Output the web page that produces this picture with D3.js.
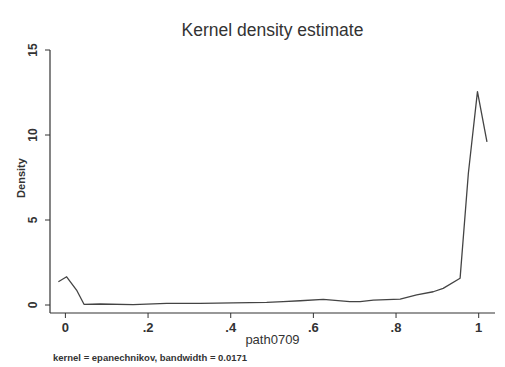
<!DOCTYPE html>
<html>
<head>
<meta charset="utf-8">
<script src="https://cdn.jsdelivr.net/npm/d3@7"></script>
<style>
  body { margin: 0; background: #fff; }
  svg { display: block; font-family: "Liberation Sans", Arial, sans-serif; }
</style>
</head>
<body>
<div id="chart"></div>
<script>
// evaluation points of the density (path0709) and estimated density
const xValues = [-0.017, 0.003, 0.027, 0.045, 0.084, 0.164, 0.245, 0.326, 0.406, 0.487,
  0.527, 0.568, 0.624, 0.688, 0.713, 0.745, 0.81, 0.85, 0.89, 0.914, 0.955, 0.975, 0.983, 0.997, 1.02];
const densityValues = [1.37, 1.66, 0.88, 0.04, 0.06, 0.02, 0.1, 0.1, 0.13, 0.16,
  0.2, 0.25, 0.33, 0.2, 0.2, 0.29, 0.35, 0.59, 0.78, 0.98, 1.57, 7.75, 9.5, 12.55, 9.6];
const xTicks = [0, 0.2, 0.4, 0.6, 0.8, 1];
const yTicks = [0, 5, 10, 15];

const width = 505, height = 367;
const plotLeft = 50, plotRight = 495, plotTop = 50, plotBottom = 313;

const svg = d3.select('#chart').append('svg')
  .attr('width', width)
  .attr('height', height);

const x = d3.scaleLinear().domain([0, 1]).range([65.4, 478.7]);
const y = d3.scaleLinear().domain([0, 15]).range([305, 50]);

// axes lines
svg.append('line')
  .attr('x1', plotLeft).attr('x2', plotLeft)
  .attr('y1', plotTop).attr('y2', plotBottom)
  .attr('stroke', '#333').attr('stroke-width', 1.2);
svg.append('line')
  .attr('x1', plotLeft).attr('x2', plotRight)
  .attr('y1', plotBottom).attr('y2', plotBottom)
  .attr('stroke', '#333').attr('stroke-width', 1.2);

const fmt = d => d === 0 ? '0' : d === 1 ? '1' : String(d).replace(/^0/, '');

// x ticks
const xt = svg.append('g').selectAll('g').data(xTicks).join('g')
  .attr('transform', d => `translate(${x(d)},${plotBottom})`);
xt.append('line').attr('y2', 5).attr('stroke', '#333');
xt.append('text')
  .attr('y', 19)
  .attr('text-anchor', 'middle')
  .attr('font-size', 13)
  .attr('font-weight', 'bold')
  .attr('fill', '#333')
  .text(fmt);

// y ticks
const yt = svg.append('g').selectAll('g').data(yTicks).join('g')
  .attr('transform', d => `translate(${plotLeft},${y(d)})`);
yt.append('line').attr('x2', -5).attr('stroke', '#333');
yt.append('text')
  .attr('transform', 'translate(-13,0) rotate(-90)')
  .attr('text-anchor', 'middle')
  .attr('font-size', 12)
  .attr('font-weight', 'bold')
  .attr('fill', '#333')
  .text(d => d);

// density line
const line = d3.line()
  .x((d, i) => x(xValues[i]))
  .y(d => y(d));
svg.append('path')
  .datum(densityValues)
  .attr('d', line)
  .attr('fill', 'none')
  .attr('stroke', '#444')
  .attr('stroke-width', 1.3)
  .attr('stroke-linejoin', 'round');

// titles
svg.append('text')
  .attr('x', (plotLeft + plotRight) / 2).attr('y', 36)
  .attr('text-anchor', 'middle')
  .attr('font-size', 17.5)
  .attr('fill', '#333')
  .text('Kernel density estimate');

svg.append('text')
  .attr('transform', 'translate(25,178) rotate(-90)')
  .attr('text-anchor', 'middle')
  .attr('font-size', 11)
  .attr('font-weight', 'bold')
  .attr('fill', '#333')
  .text('Density');

svg.append('text')
  .attr('x', (plotLeft + plotRight) / 2).attr('y', 344)
  .attr('text-anchor', 'middle')
  .attr('font-size', 13)
  .attr('fill', '#333')
  .text('path0709');

svg.append('text')
  .attr('x', 53).attr('y', 361)
  .attr('font-size', 9.5)
  .attr('font-weight', 'bold')
  .attr('fill', '#333')
  .text('kernel = epanechnikov, bandwidth = 0.0171');
</script>
</body>
</html>
